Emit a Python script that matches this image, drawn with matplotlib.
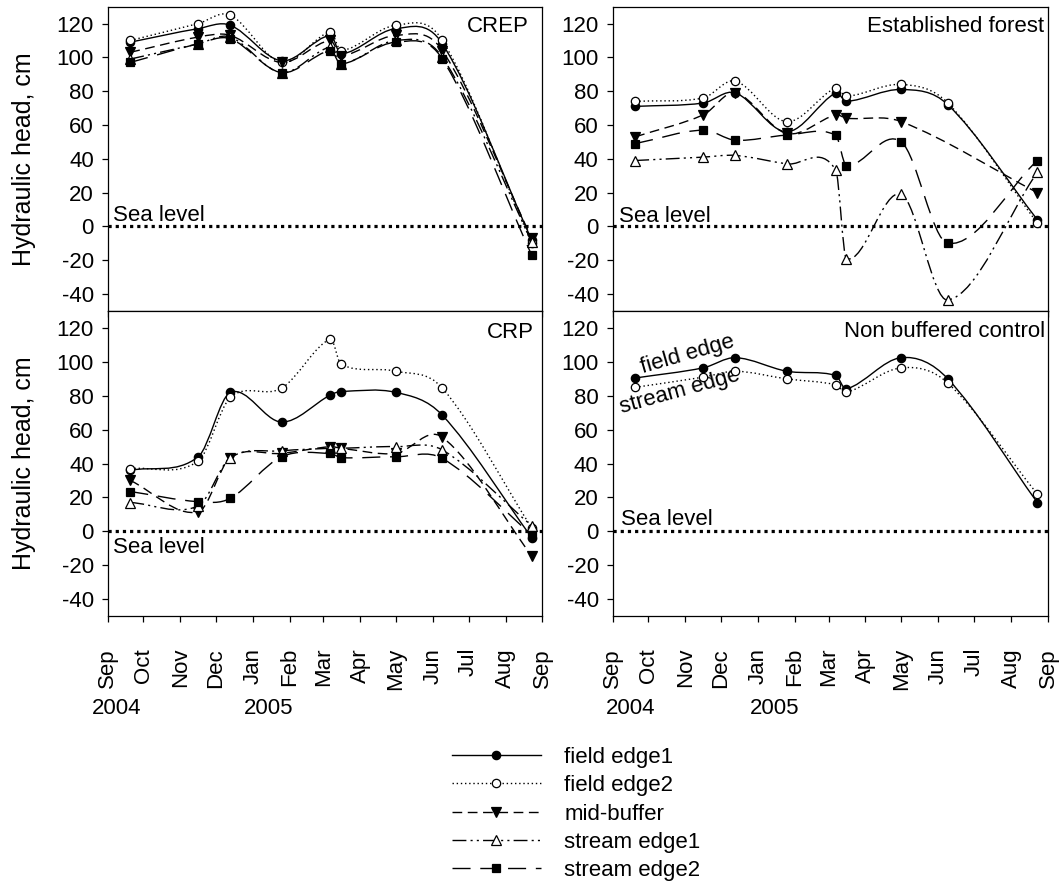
import numpy as np
import pandas as pd
import matplotlib
matplotlib.use("Agg")
import matplotlib.pyplot as plt
import matplotlib.dates as mdates
from matplotlib.path import Path
from matplotlib.patches import PathPatch
from matplotlib.lines import Line2D

plt.rcParams["font.family"] = ["Liberation Sans", "DejaVu Sans"]
plt.rcParams["axes.unicode_minus"] = False

# -----------------------------------------------------------------------------
# data (hydraulic head, cm)
# -----------------------------------------------------------------------------
dates = pd.to_datetime([
    "2004-09-20", "2004-11-16", "2004-12-13", "2005-01-25", "2005-03-07",
    "2005-03-16", "2005-05-01", "2005-06-09", "2005-08-23",
])

crep_fe1 = [109, 117, 119, 98, 113, 102, 117, 108, -8]
crep_fe2 = [110, 120, 125, 97, 115, 104, 119, 110, -10]
crep_mid = [103, 112, 113, 97, 110, 101, 113, 104, -7]
crep_se1 = [99, 108, 112, 91, 106, 96, 110, 100, -9]
crep_se2 = [97, 108, 111, 91, 104, 96, 109, 99, -17]

forest_fe1 = [71, 73, 79, 56, 79, 74, 81, 72, 4]
forest_fe2 = [74, 76, 86, 62, 82, 77, 84, 73, 2]
forest_mid = [53, 66, 79, 55, 66, 64, 62, np.nan, 20]
forest_se1 = [39, 41, 42, 37, 33.5, -19, 19, -43.5, 32]
forest_se2 = [49, 57, 51, 54, 54, 36, 50, -10, 39]

crp_fe1 = [36, 44, 82, 64.5, 80.5, 82.5, 82, 68.5, -3.7]
crp_fe2 = [37, 41.5, 79, 84.5, 113.5, 98.5, 94.5, 84.5, 2]
crp_mid = [30, 11.5, 43.5, 46, 50, 49, 46, 55.5, -14.5]
crp_se1 = [17, 15, 43.5, 47.5, 49, 49, 50, 48, 3.3]
crp_se2 = [23.5, 17.5, 19.5, 44, 46, 43.5, 44, 43, -2]

ctrl_field = [90.5, 96.5, 102.5, 94.5, 92, 84, 102.5, 90, 17]
ctrl_stream = [85, 91, 94.5, 90, 86.5, 82, 96.5, 87.5, 22]

series_names = ["field edge1", "field edge2", "mid-buffer", "stream edge1", "stream edge2"]

# 선/마커 스타일
STYLE = {
    "field edge1": dict(ls="-", marker="o", mfc="black", ms=6),
    "field edge2": dict(ls=(0, (1, 2)), marker="o", mfc="white", ms=6),
    "mid-buffer": dict(ls=(0, (7, 4)), marker="v", mfc="black", ms=6.5),
    "stream edge1": dict(ls=(0, (10, 3, 1.5, 3, 1.5, 3)), marker="^", mfc="white", ms=6.5),
    "stream edge2": dict(ls=(0, (13, 7)), marker="s", mfc="black", ms=5.5),
}

months = pd.date_range("2004-09-01", "2005-09-01", freq="MS")
month_labels = [m.strftime("%b") for m in months]

FS = 16


def smooth_path(x, y):
    # cubic hermite (catmull-rom) through the points, drawn as bezier segments
    x = np.asarray(x, float)
    y = np.asarray(y, float)
    ok = ~np.isnan(y)
    x, y = x[ok], y[ok]
    n = len(x)
    m = np.empty(n)
    m[0] = (y[1] - y[0]) / (x[1] - x[0])
    m[-1] = (y[-1] - y[-2]) / (x[-1] - x[-2])
    m[1:-1] = (y[2:] - y[:-2]) / (x[2:] - x[:-2])
    verts = [(x[0], y[0])]
    codes = [Path.MOVETO]
    for i in range(n - 1):
        h = x[i + 1] - x[i]
        verts += [(x[i] + h / 3, y[i] + m[i] * h / 3),
                  (x[i + 1] - h / 3, y[i + 1] - m[i + 1] * h / 3),
                  (x[i + 1], y[i + 1])]
        codes += [Path.CURVE4] * 3
    return Path(verts, codes)


def draw_series(ax, y, style):
    xd = mdates.date2num(dates)
    ax.add_patch(PathPatch(smooth_path(xd, y), fill=False, ec="black",
                           lw=1.0, ls=style["ls"], zorder=3))
    ax.plot(xd, y, ls="none", marker=style["marker"], mfc=style["mfc"],
            mec="black", mew=0.9, ms=style["ms"], zorder=4)


def setup(ax, bottom):
    ax.set_xlim(months[0], months[-1])
    ax.set_ylim(-50, 130)
    ax.set_yticks(range(-40, 121, 20))
    ax.set_xticks(months)
    ax.tick_params(axis="both", direction="out", length=4, width=0.9, labelsize=FS)
    ax.tick_params(axis="y", pad=6)
    if bottom:
        ax.set_xticklabels(month_labels, rotation=90)
        ax.tick_params(axis="x", pad=19)
    else:
        ax.tick_params(axis="x", labelbottom=False)
    for s in ax.spines.values():
        s.set_linewidth(0.9)
    ax.axhline(0, color="black", lw=2.3, ls=(0, (1, 1.25)), zorder=2)


fig = plt.figure(figsize=(10.64, 8.86), dpi=100)
ax_crep = fig.add_axes([0.1012, 0.6490, 0.4086, 0.3435])
ax_forest = fig.add_axes([0.5757, 0.6490, 0.4093, 0.3435])
ax_crp = fig.add_axes([0.1012, 0.3047, 0.4086, 0.3442])
ax_ctrl = fig.add_axes([0.5757, 0.3047, 0.4093, 0.3442])

panels = [
    (ax_crep, [crep_fe1, crep_fe2, crep_mid, crep_se1, crep_se2], False),
    (ax_forest, [forest_fe1, forest_fe2, forest_mid, forest_se1, forest_se2], False),
    (ax_crp, [crp_fe1, crp_fe2, crp_mid, crp_se1, crp_se2], True),
]
for ax, ys, bottom in panels:
    setup(ax, bottom)
    for name, y in zip(series_names, ys):
        draw_series(ax, y, STYLE[name])

setup(ax_ctrl, True)
draw_series(ax_ctrl, ctrl_field, STYLE["field edge1"])
draw_series(ax_ctrl, ctrl_stream, STYLE["field edge2"])

# 패널 제목
ax_crep.text(0.968, 0.97, "CREP", transform=ax_crep.transAxes, ha="right", va="top", fontsize=FS)
ax_forest.text(0.991, 0.97, "Established forest", transform=ax_forest.transAxes, ha="right", va="top", fontsize=FS)
ax_crp.text(0.98, 0.965, "CRP", transform=ax_crp.transAxes, ha="right", va="top", fontsize=FS)
ax_ctrl.text(0.993, 0.967, "Non buffered control", transform=ax_ctrl.transAxes, ha="right", va="top", fontsize=FS)

# Sea level
ax_crep.text(0.013, 3, "Sea level", transform=ax_crep.get_yaxis_transform(), va="baseline", fontsize=FS)
ax_forest.text(0.015, 2.5, "Sea level", transform=ax_forest.get_yaxis_transform(), va="baseline", fontsize=FS)
ax_crp.text(0.013, -12.5, "Sea level", transform=ax_crp.get_yaxis_transform(), va="baseline", fontsize=FS)
ax_ctrl.text(0.02, 3.7, "Sea level", transform=ax_ctrl.get_yaxis_transform(), va="baseline", fontsize=FS)

ax_ctrl.text(0.068, 0.797, "field edge", transform=ax_ctrl.transAxes, rotation=16,
             rotation_mode="anchor", ha="left", va="baseline", fontsize=FS)
ax_ctrl.text(0.022, 0.666, "stream edge", transform=ax_ctrl.transAxes, rotation=15.5,
             rotation_mode="anchor", ha="left", va="baseline", fontsize=FS)

for ax in (ax_crep, ax_crp):
    ax.set_ylabel("Hydraulic head, cm", fontsize=18)
    ax.yaxis.set_label_coords(-0.165, 0.5)

# 연도 표시
for x, t in [(0.0861, "2004"), (0.2293, "2005"), (0.5695, "2004"), (0.7049, "2005")]:
    fig.text(x, 0.2009, t, ha="left", va="center", fontsize=FS)

handles = [Line2D([], [], color="black", lw=1.0, ls=STYLE[n]["ls"], marker=STYLE[n]["marker"],
                  mfc=STYLE[n]["mfc"], mec="black", mew=0.9, ms=STYLE[n]["ms"])
           for n in series_names]
fig.legend(handles, series_names, loc="upper left", bbox_to_anchor=(0.4248, 0.157),
           frameon=False, fontsize=FS, handlelength=4, handletextpad=1.05,
           labelspacing=0.33, borderpad=0, borderaxespad=0, numpoints=1)

fig.savefig("out.png", dpi=100)
